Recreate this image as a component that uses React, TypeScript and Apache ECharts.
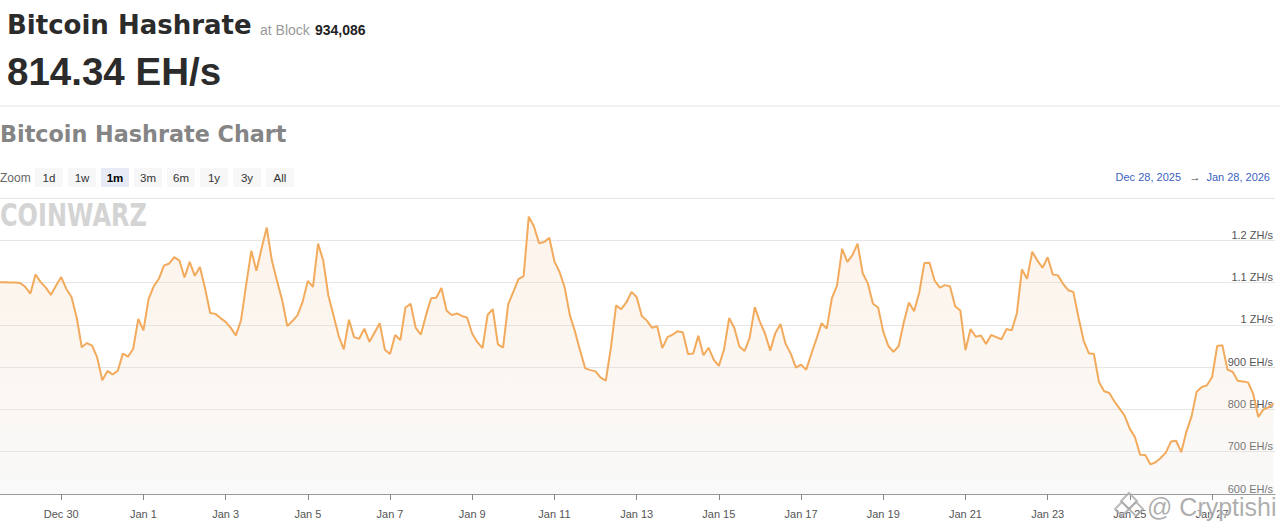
import React, { useEffect, useRef } from "react";
import * as echarts from "echarts";

const pageTitle = "Bitcoin Hashrate";
const blockLabel = "at Block";
const blockHeight = "934,086";
const currentHashrate = "814.34 EH/s";
const chartTitle = "Bitcoin Hashrate Chart";
const zoomLabel = "Zoom";
const zoomButtons = ["1d", "1w", "1m", "3m", "6m", "1y", "3y", "All"];
const selectedZoom = "1m";
const rangeFrom = "Dec 28, 2025";
const rangeTo = "Jan 28, 2026";
const logoText = "COINWARZ";
const creditText = "@ Cryptishi";

const axisStart = "2025-12-28T12:15:00Z";
const axisEnd = "2026-01-28T12:45:00Z";
const seriesStart = "2025-12-28T12:00:00Z";
const stepHours = 3;

// Hashrate, EH/s, one reading every 3 hours from Dec 28, 2025 12:00 UTC
const hashrateEH = [
  1101, 1101, 1100, 1100, 1099, 1090, 1074, 1119, 1101, 1088,
  1071, 1093, 1113, 1085, 1066, 1018, 947, 957, 951, 923,
  869, 891, 883, 891, 932, 925, 943, 1014, 987, 1061,
  1091, 1109, 1140, 1145, 1160, 1152, 1112, 1149, 1116, 1137,
  1086, 1028, 1026, 1016, 1007, 993, 975, 1011, 1095, 1175,
  1128, 1181, 1230, 1152, 1104, 1059, 997, 1009, 1023, 1055,
  1104, 1090, 1192, 1152, 1069, 1022, 974, 942, 1012, 971,
  967, 991, 960, 982, 1004, 941, 931, 976, 964, 1041,
  1050, 993, 977, 1023, 1063, 1064, 1087, 1034, 1023, 1027,
  1021, 1017, 979, 959, 945, 1024, 1037, 954, 946, 1049,
  1078, 1108, 1115, 1256, 1233, 1193, 1196, 1206, 1150, 1125,
  1088, 1023, 984, 939, 897, 893, 890, 875, 868, 947,
  1046, 1037, 1053, 1078, 1066, 1021, 1010,
  993, 997, 945, 971, 977, 985, 982, 931, 932, 974,
  928, 946, 918, 903, 941, 1016, 993, 949, 938, 970,
  1042, 1007, 979, 939, 981, 1002, 955, 932, 899, 906,
  894, 931, 967, 1004, 991, 1063, 1093, 1180, 1149, 1165,
  1192, 1122, 1098, 1050, 1041, 984, 950, 936, 950, 1006,
  1053, 1032, 1076, 1146, 1147, 1105, 1088, 1094, 1091, 1044,
  1034, 940,
  990, 972, 975, 955, 976, 971, 966, 990, 987, 1027,
  1131, 1109, 1173, 1152, 1135, 1160, 1119, 1117, 1097, 1082,
  1078, 1018, 963, 933, 931, 864, 843, 839, 819, 802,
  785, 754, 734, 693, 692, 670, 675, 685, 698, 724,
  726, 699, 747, 783, 842, 853, 857, 876, 950, 952,
  894, 889, 868, 866, 864, 837, 782, 800, 805, 814,
];

const tickDates = [
  "2025-12-30", "2026-01-01", "2026-01-03", "2026-01-05", "2026-01-07",
  "2026-01-09", "2026-01-11", "2026-01-13", "2026-01-15", "2026-01-17",
  "2026-01-19", "2026-01-21", "2026-01-23", "2026-01-25", "2026-01-27",
];
const monthNames = ["Jan", "Feb", "Mar", "Apr", "May", "Jun", "Jul", "Aug", "Sep", "Oct", "Nov", "Dec"];
const yMin = 600;
const yMax = 1300;
const yStep = 100;

const FONT = '"Liberation Sans", Arial, Helvetica, sans-serif';
const WIDE = '"DejaVu Sans", Verdana, sans-serif';

function buildOption() {
  const start = Date.parse(seriesStart);
  const data = hashrateEH.map((v, i) => [start + i * stepHours * 3600 * 1000, v]);
  const ticks = tickDates.map((d) => Date.parse(d + "T00:00:00Z"));

  const graphic: any[] = [
    { type: "text", x: 7, y: 25, style: { text: pageTitle, fill: "#2b2b2b", fontSize: 26, fontWeight: "bold", fontFamily: WIDE, verticalAlign: "middle" } },
    { type: "text", x: 260, y: 30, style: { text: blockLabel, fill: "#9a9a9a", fontSize: 14, fontFamily: FONT, verticalAlign: "middle" } },
    { type: "text", x: 315, y: 30, style: { text: blockHeight, fill: "#222", fontSize: 14, fontWeight: "bold", fontFamily: FONT, verticalAlign: "middle" } },
    { type: "text", x: 7, y: 71, style: { text: currentHashrate, fill: "#2b2b2b", fontSize: 38.5, fontWeight: "bold", fontFamily: FONT, verticalAlign: "middle" } },
    { type: "rect", shape: { x: 0, y: 105.5, width: 1280, height: 1 }, style: { fill: "#e2e2e2" } },
    { type: "text", x: 0, y: 134, style: { text: chartTitle, fill: "#858585", fontSize: 22.3, fontWeight: "bold", fontFamily: WIDE, verticalAlign: "middle" } },
    { type: "text", x: 0, y: 178, style: { text: zoomLabel, fill: "#666", fontSize: 12, fontFamily: FONT, verticalAlign: "middle" } },
    { type: "text", x: 1181, y: 177, style: { text: rangeFrom, fill: "#3d5fc4", fontSize: 11, fontFamily: FONT, align: "right", verticalAlign: "middle" } },
    { type: "text", x: 1195, y: 177, style: { text: "→", fill: "#444", fontSize: 11, fontFamily: FONT, align: "center", verticalAlign: "middle" } },
    { type: "text", x: 1270, y: 177, style: { text: rangeTo, fill: "#3d5fc4", fontSize: 11, fontFamily: FONT, align: "right", verticalAlign: "middle" } },
    {
      type: "text", x: 0, y: 215, scaleY: 1.3, z: 10,
      style: { text: logoText, fill: "#d4d4d4", fontSize: 24, fontWeight: "bold", fontFamily: WIDE, verticalAlign: "middle" },
    },
    {
      type: "text", x: 1147, y: 507, z: 100,
      style: { text: creditText, fill: "rgba(160,160,160,0.85)", fontSize: 25, fontFamily: FONT, verticalAlign: "middle", stroke: "rgba(255,255,255,0.8)", lineWidth: 1 },
    },
    { type: "polygon", z: 100, shape: { points: [[1129, 493], [1137, 501], [1129, 509], [1121, 501]] }, style: { fill: "none", stroke: "rgba(170,170,170,0.8)", lineWidth: 2 } },
    { type: "polygon", z: 100, shape: { points: [[1122, 502], [1129, 509], [1122, 516], [1115, 509]] }, style: { fill: "none", stroke: "rgba(170,170,170,0.8)", lineWidth: 2 } },
    { type: "polygon", z: 100, shape: { points: [[1136, 502], [1143, 509], [1136, 516], [1129, 509]] }, style: { fill: "none", stroke: "rgba(170,170,170,0.8)", lineWidth: 2 } },
  ];

  zoomButtons.forEach((b, i) => {
    const x = 35 + 33 * i;
    const sel = b === selectedZoom;
    graphic.push({ type: "rect", shape: { x, y: 168, width: 28, height: 19 }, style: { fill: sel ? "#e6ebf5" : "#f7f7f7" } });
    graphic.push({
      type: "text", x: x + 14, y: 178,
      style: { text: b, fill: sel ? "#000" : "#333", fontSize: 11.5, fontWeight: sel ? "bold" : "normal", fontFamily: FONT, align: "center", verticalAlign: "middle" },
    });
  });

  return {
    animation: false,
    backgroundColor: "#ffffff",
    grid: { left: 0, right: 5, top: 198, bottom: 37, containLabel: false },
    xAxis: {
      type: "value",
      min: Date.parse(axisStart),
      max: Date.parse(axisEnd),
      axisLine: { show: true, lineStyle: { color: "#9a9a9a", width: 1 } },
      axisTick: { show: true, customValues: ticks, length: 6, lineStyle: { color: "#8a8a8a" } },
      axisLabel: {
        customValues: ticks,
        margin: 14,
        color: "#555",
        fontSize: 11,
        fontFamily: FONT,
        formatter: (v: number) => {
          const d = new Date(v);
          return monthNames[d.getUTCMonth()] + " " + d.getUTCDate();
        },
      },
      splitLine: { show: false },
    },
    yAxis: {
      type: "value",
      min: yMin,
      max: yMax,
      interval: yStep,
      position: "right",
      axisLine: { show: false },
      axisTick: { show: false },
      axisLabel: {
        inside: true,
        margin: 2,
        color: "#555",
        fontSize: 11,
        fontFamily: FONT,
        verticalAlign: "bottom",
        formatter: (v: number) => {
          if (v >= yMax) return "";
          return v >= 1000 ? v / 1000 + " ZH/s" : v + " EH/s";
        },
      },
      splitLine: { lineStyle: { color: "#e6e6e6", width: 1 } },
    },
    series: [
      {
        type: "line",
        data,
        symbol: "none",
        showSymbol: false,
        lineStyle: { color: "#f2aa5d", width: 2 },
        itemStyle: { color: "#f2aa5d" },
        areaStyle: {
          color: new echarts.graphic.LinearGradient(0, 0, 0, 1, [
            { offset: 0, color: "rgba(246,196,146,0.25)" },
            { offset: 1, color: "rgba(232,232,232,0.35)" },
          ]),
        },
      },
    ],
    graphic,
  };
}

export default function App() {
  const ref = useRef<HTMLDivElement>(null);
  useEffect(() => {
    if (!ref.current) return;
    const chart = echarts.init(ref.current, null, { renderer: "svg" });
    chart.setOption(buildOption() as any);
    return () => chart.dispose();
  }, []);
  return (
    <div
      ref={ref}
      style={{ position: "absolute", left: 0, top: 0, width: 1280, height: 531, background: "#fff" }}
    />
  );
}
